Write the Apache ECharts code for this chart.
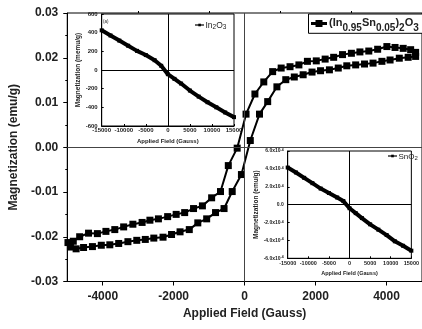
<!DOCTYPE html>
<html><head><meta charset="utf-8">
<script src="https://cdn.jsdelivr.net/npm/echarts@6/dist/echarts.min.js"></script>
<style>html,body{margin:0;padding:0;background:#fff}#c{width:422px;height:329px}</style>
</head><body><div id="c"></div>
<script>
// ---- Main loop: (In0.95Sn0.05)2O3 ----
var descField = [-4980,-4830,-4650,-4400,-4150,-3910,-3660,-3410,-3150,-2890,-2670,-2430,-2170,-1930,-1690,-1440,-1190,-930,-680,-460,-210,40,290,540,790,1030,1280,1530,1770,2020,2270,2510,2760,3010,3250,3500,3750,4010,4240,4470,4680,4820];
var descMag = [-0.0213,-0.0210,-0.0200,-0.0192,-0.0193,-0.0188,-0.0184,-0.0178,-0.0172,-0.0168,-0.0163,-0.0160,-0.0155,-0.0150,-0.0146,-0.0137,-0.0131,-0.0113,-0.0099,-0.0041,-0.0002,0.0074,0.0119,0.0146,0.0169,0.0177,0.0180,0.0184,0.0192,0.0193,0.0197,0.0201,0.0207,0.0210,0.0213,0.0215,0.0219,0.0225,0.0223,0.0221,0.0218,0.0212];
var ascField = [-4910,-4750,-4540,-4290,-4040,-3800,-3550,-3290,-3040,-2800,-2560,-2300,-2060,-1820,-1560,-1320,-1070,-820,-580,-350,-90,160,420,650,910,1160,1400,1650,1900,2140,2390,2640,2880,3130,3380,3620,3870,4100,4360,4610,4820];
var ascMag = [-0.0223,-0.0227,-0.0224,-0.0222,-0.0219,-0.0218,-0.0215,-0.0211,-0.0208,-0.0206,-0.0203,-0.0201,-0.0195,-0.0189,-0.0184,-0.0169,-0.0160,-0.0146,-0.0137,-0.0099,-0.0061,0.0015,0.0074,0.0102,0.0135,0.0151,0.0157,0.0162,0.0168,0.0171,0.0173,0.0177,0.0182,0.0184,0.0186,0.0188,0.0192,0.0195,0.0199,0.0201,0.0203];
var mainXTicks = [-4000,-2000,0,2000,4000];
var mainXMinorTicks = [-3000,-1000,1000,3000];

// ---- Inset (a): In2O3 ----
var in2o3Field = [-15000,-13000,-11000,-9000,-7000,-5000,-3000,-1500,0,1500,3000,5000,7000,9000,11000,13000,15000];
var in2o3Mag = [425,370,315,260,205,160,105,45,-45,-95,-145,-220,-285,-345,-400,-455,-505];

// ---- Inset: SnO2 ----
var sno2Field = [-15000,-13000,-11000,-9000,-7000,-5000,-3000,-1500,0,1500,3000,5000,7000,9000,11000,13000,15000];
var sno2Mag = [4.15e-4,3.6e-4,3.0e-4,2.4e-4,1.8e-4,1.3e-4,0.8e-4,0.4e-4,-0.4e-4,-0.95e-4,-1.5e-4,-2.2e-4,-2.8e-4,-3.4e-4,-4.1e-4,-4.6e-4,-5.15e-4];

function zip(a,b){return a.map(function(v,i){return [v,b[i]];});}
function plain(v){return String(Math.round(v));}

var FONT = 'Liberation Sans, Arial, sans-serif';
var chart = echarts.init(document.getElementById('c'), null, {renderer:'canvas'});

function zeroLines(color){
  return {silent:true, symbol:['none','none'], label:{show:false}, animation:false,
    lineStyle:{color:color, width:1, type:'solid'},
    emphasis:{disabled:true},
    data:[{xAxis:0},{yAxis:0}]};
}

var option = {
  animation:false,
  backgroundColor:'#fff',
  grid:[
    {left:67, right:-4.7, top:13, bottom:47.5, show:true, borderColor:'#000', borderWidth:1},
    {left:101.7, top:14, width:132.3, height:112, show:true, borderColor:'#000', borderWidth:1},
    {left:287.7, top:151, width:132.6, height:107.3, show:true, borderColor:'#000', borderWidth:1}
  ],
  xAxis:[
    {gridIndex:0, type:'value', min:-5000, max:5000, interval:1000,
     axisLine:{onZero:false, lineStyle:{color:'#000', width:1}},
     axisTick:{show:true, inside:false, length:4, customValues:mainXTicks, lineStyle:{color:'#000'}},
     axisLabel:{customValues:mainXTicks, formatter:plain, margin:9, color:'#222', fontFamily:FONT, fontWeight:'bold', fontSize:12},
     splitLine:{show:false},
     name:'Applied Field (Gauss)', nameLocation:'middle', nameGap:25,
     nameTextStyle:{color:'#222', fontFamily:FONT, fontWeight:'bold', fontSize:12}},
    {gridIndex:0, type:'value', min:-5000, max:5000, interval:1000,
     axisLine:{show:false, onZero:false},
     axisTick:{show:true, inside:false, length:2, customValues:mainXMinorTicks, lineStyle:{color:'#000'}},
     axisLabel:{show:false}, splitLine:{show:false}},
    {gridIndex:1, type:'value', min:-15000, max:15000, interval:5000,
     axisLine:{onZero:false, lineStyle:{color:'#000', width:1}},
     axisTick:{inside:true, length:2, lineStyle:{color:'#000'}},
     axisLabel:{formatter:plain, margin:1.5, color:'#222', fontFamily:FONT, fontWeight:'bold', fontSize:6},
     splitLine:{show:false},
     name:'Applied Field (Gauss)', nameLocation:'middle', nameGap:12,
     nameTextStyle:{color:'#222', fontFamily:FONT, fontWeight:'bold', fontSize:6}},
    {gridIndex:2, type:'value', min:-15000, max:15000, interval:5000,
     axisLine:{onZero:false, lineStyle:{color:'#000', width:1}},
     axisTick:{inside:true, length:2, lineStyle:{color:'#000'}},
     axisLabel:{formatter:plain, margin:2, color:'#222', fontFamily:FONT, fontWeight:'bold', fontSize:5.5},
     splitLine:{show:false},
     name:'Applied Field (Gauss)', nameLocation:'middle', nameGap:12,
     nameTextStyle:{color:'#222', fontFamily:FONT, fontWeight:'bold', fontSize:5.5}}
  ],
  yAxis:[
    {gridIndex:0, type:'value', min:-0.03, max:0.03, interval:0.01,
     axisLine:{onZero:false, lineStyle:{color:'#000', width:1}},
     axisTick:{show:true, inside:false, length:4, lineStyle:{color:'#000'}},
     minorTick:{show:true, splitNumber:2, length:2, lineStyle:{color:'#000'}},
     axisLabel:{margin:9, color:'#222', fontFamily:FONT, fontWeight:'bold', fontSize:12,
       formatter:function(v){return v.toFixed(2);}},
     splitLine:{show:false},
     name:'Magnetization (emu/g)', nameLocation:'middle', nameGap:41,
     nameTextStyle:{color:'#222', fontFamily:FONT, fontWeight:'bold', fontSize:12}},
    {gridIndex:1, type:'value', min:-600, max:600, interval:200,
     axisLine:{onZero:false, lineStyle:{color:'#000', width:1}},
     axisTick:{inside:true, length:2, lineStyle:{color:'#000'}},
     axisLabel:{margin:4, color:'#222', fontFamily:FONT, fontWeight:'bold', fontSize:6},
     splitLine:{show:false},
     name:'Magnetization (memu/g)', nameLocation:'middle', nameGap:20,
     nameTextStyle:{color:'#222', fontFamily:FONT, fontWeight:'bold', fontSize:6.5}},
    {gridIndex:2, type:'value', min:-6e-4, max:6e-4, interval:2e-4,
     axisLine:{onZero:false, lineStyle:{color:'#000', width:1}},
     axisTick:{inside:true, length:2, lineStyle:{color:'#000'}},
     axisLabel:{margin:4, color:'#222', fontFamily:FONT, fontWeight:'bold', fontSize:5,
       formatter:function(v){ if (Math.abs(v) < 1e-9) return '0.0'; return (v*1e4).toFixed(1) + 'x10{s|-4}'; },
       rich:{s:{fontSize:3.5, fontFamily:FONT, fontWeight:'bold', color:'#222', verticalAlign:'top', lineHeight:6}}},
     splitLine:{show:false},
     name:'Magnetization (emu/g)', nameLocation:'middle', nameGap:26,
     nameTextStyle:{color:'#222', fontFamily:FONT, fontWeight:'bold', fontSize:6.5}}
  ],
  series:[
    {type:'line', name:'desc', xAxisIndex:0, yAxisIndex:0, data:zip(descField, descMag),
     symbol:'rect', symbolSize:7, showSymbol:true,
     lineStyle:{color:'#000', width:2}, itemStyle:{color:'#000'},
     markLine:zeroLines('#444'), z:3},
    {type:'line', name:'asc', xAxisIndex:0, yAxisIndex:0, data:zip(ascField, ascMag),
     symbol:'rect', symbolSize:7, showSymbol:true,
     lineStyle:{color:'#000', width:2}, itemStyle:{color:'#000'}, z:3},
    {type:'line', name:'In2O3', xAxisIndex:2, yAxisIndex:1, data:zip(in2o3Field, in2o3Mag),
     symbol:'rect', symbolSize:4, showSymbol:true,
     lineStyle:{color:'#000', width:4}, itemStyle:{color:'#000'},
     markLine:zeroLines('#000')},
    {type:'line', name:'SnO2', xAxisIndex:3, yAxisIndex:2, data:zip(sno2Field, sno2Mag),
     symbol:'rect', symbolSize:4, showSymbol:true,
     lineStyle:{color:'#000', width:4}, itemStyle:{color:'#000'},
     markLine:zeroLines('#000')}
  ],
  graphic:[
    // main legend
    {type:'rect', shape:{x:308.5, y:14, width:120, height:19.3}, style:{fill:'#fff', stroke:'#000', lineWidth:1}, z:10},
    {type:'line', shape:{x1:311, y1:23.5, x2:327, y2:23.5}, style:{stroke:'#000', lineWidth:3}, z:11},
    {type:'rect', shape:{x:315.5, y:20, width:7, height:7}, style:{fill:'#000'}, z:11},
    {type:'text', x:329, y:17, z:11, style:{
      text:'{b|(In}{s|0.95}{b|Sn}{s|0.05}{b|)}{s|2}{b|O}{s|3}',
      verticalAlign:'top', align:'left',
      rich:{
        b:{fontSize:11, fontWeight:'bold', fontFamily:FONT, fill:'#222', lineHeight:11, verticalAlign:'top'},
        s:{fontSize:10, fontWeight:'bold', fontFamily:FONT, fill:'#222', lineHeight:22}
      }}},
    // inset (a) legend
    {type:'line', shape:{x1:195, y1:25, x2:204, y2:25}, style:{stroke:'#000', lineWidth:1.2}, z:11},
    {type:'rect', shape:{x:198.3, y:23.7, width:2.6, height:2.6}, style:{fill:'#000'}, z:11},
    {type:'text', x:205.5, y:21, z:11, style:{
      text:'{b|In}{s|2}{b|O}{s|3}', verticalAlign:'top', align:'left',
      rich:{
        b:{fontSize:8.5, fontFamily:FONT, fill:'#222', lineHeight:8, verticalAlign:'top'},
        s:{fontSize:6.5, fontFamily:FONT, fill:'#222', lineHeight:13}
      }}},
    {type:'text', x:103, y:19.5, z:11, style:{text:'(a)', fontSize:4.5, fontFamily:FONT, fill:'#222', verticalAlign:'top'}},
    // SnO2 legend
    {type:'line', shape:{x1:388, y1:156, x2:397, y2:156}, style:{stroke:'#000', lineWidth:1.2}, z:11},
    {type:'rect', shape:{x:391.2, y:154.7, width:2.6, height:2.6}, style:{fill:'#000'}, z:11},
    {type:'text', x:398.5, y:152.3, z:11, style:{
      text:'{b|SnO}{s|2}', verticalAlign:'top', align:'left',
      rich:{
        b:{fontSize:8, fontFamily:FONT, fill:'#222', lineHeight:7.5, verticalAlign:'top'},
        s:{fontSize:6, fontFamily:FONT, fill:'#222', lineHeight:12}
      }}}
  ]
};
chart.setOption(option);
</script>
</body></html>
